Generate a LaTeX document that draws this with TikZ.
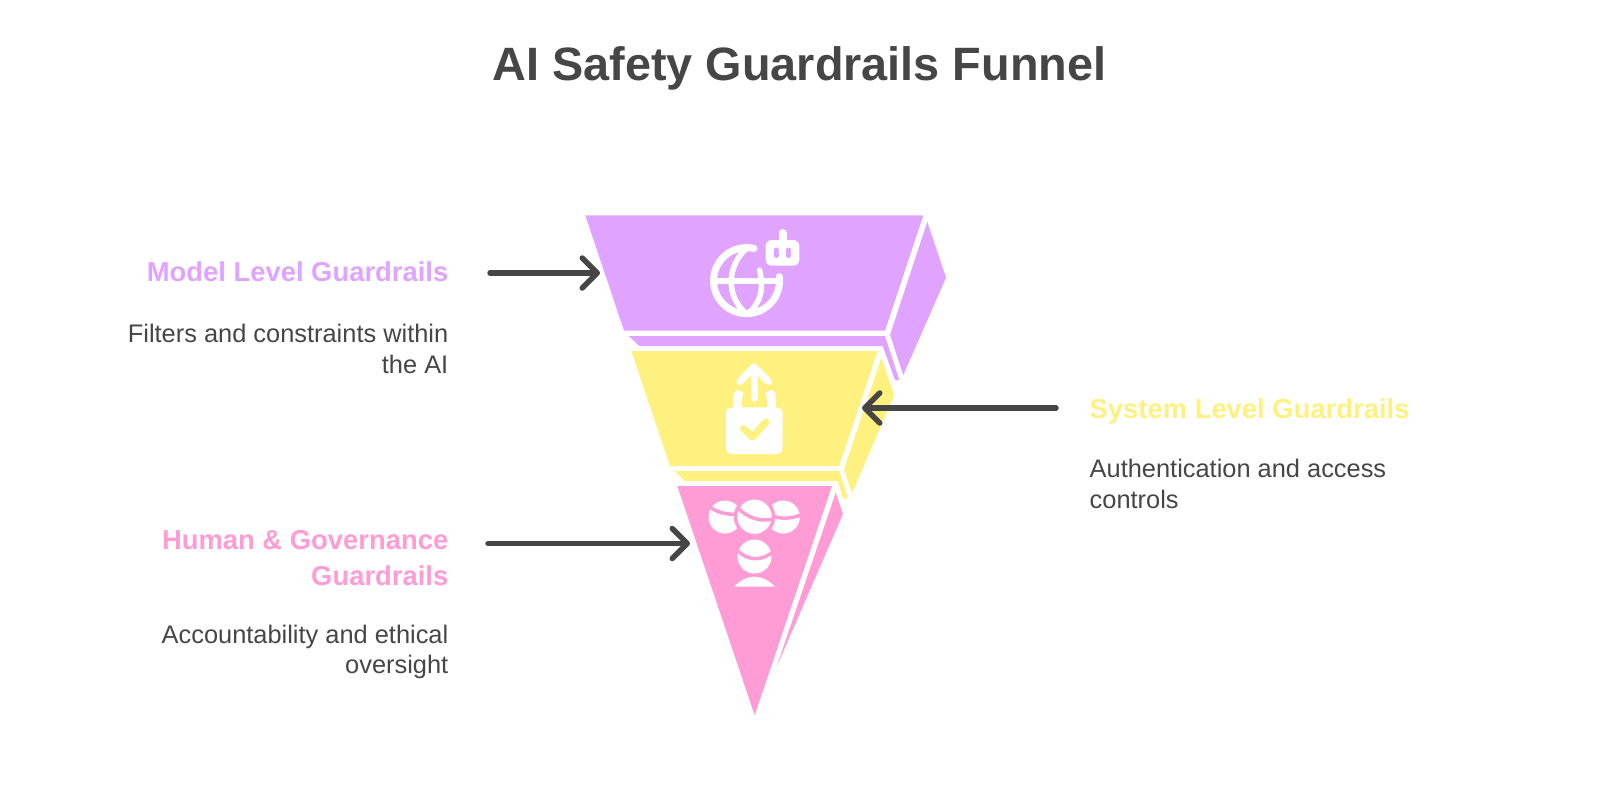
\documentclass[tikz,border=0pt]{standalone}
\usepackage{fontspec}
\setmainfont{Liberation Sans}
\usepackage{xcolor}
\usetikzlibrary{arrows.meta,positioning}
\definecolor{inkgray}{HTML}{464646}
\definecolor{modelcol}{HTML}{E0A3FF}
\definecolor{systemcol}{HTML}{FFF17F}
\definecolor{humancol}{HTML}{FF9CD6}

\begin{document}
\begin{tikzpicture}[
    x=1pt, y=-1pt,
    title/.style={font=\fontsize{46.8}{56}\selectfont\bfseries, text=inkgray, inner sep=0pt},
    head/.style={font=\fontsize{27.4}{36}\selectfont\bfseries, inner sep=0pt, align=right},
    body/.style={font=\fontsize{25.4}{30.6}\selectfont, text=inkgray, inner sep=0pt, align=right},
    pointer/.style={-{Straight Barb[length=15pt,width=30pt,round]}, line width=5.5pt, line cap=round, inkgray},
    iconline/.style={draw=white, line width=7pt, line cap=round, line join=round},
    stripe/.style={draw=humancol, line width=3.5pt}
  ]
  \useasboundingbox (0,0) rectangle (1600,787);

  \node[title] (heading) at (799.5,68) {AI Safety Guardrails Funnel};

  \fill[modelcol] (885,336) -- (628.7,336) -- (639.3,346) -- (882.7,346) -- (895,380) -- (899.3,380) -- cycle;
  \fill[modelcol] (927.3,221.7) -- (946,277.7) -- (903.3,375) -- (890,335) -- cycle;
  \fill[modelcol] (585.3,215.3) -- (923.3,215.3) -- (885,330.7) -- (624,330.7) -- cycle;

  \fill[systemcol] (839.3,471) -- (674.7,471) -- (684.7,481) -- (837.7,481) -- (843.3,498.3) -- (848,498.3) -- cycle;
  \fill[systemcol] (881.3,357.7) -- (894.3,395) -- (852,493.3) -- (844,469.3) -- cycle;
  \fill[systemcol] (631.3,351) -- (877.7,351) -- (839.3,466) -- (670,466) -- cycle;

  \fill[humancol] (835.7,492.7) -- (843,514) -- (776.7,666.7) -- cycle;
  \fill[humancol] (677.3,486) -- (832,486) -- (754.7,715.3) -- cycle;

  % globe and robot
  \draw[iconline] (754,248.5) arc[start angle=283, end angle=-7, radius=33];
  \draw[iconline, line width=5.5pt] (716,281) -- (777,281);
  \draw[iconline, line width=5.5pt] (747,248) .. controls (726,266) and (726,298) .. (747,314)
                            .. controls (761,304) and (764,288) .. (759.5,270);
  \fill[white, rounded corners=6pt] (765.7,240) rectangle (799.3,265.7);
  \draw[white, line width=8pt, line cap=round] (782.5,233) -- (782.5,242);
  \draw[modelcol, line width=5pt, line cap=round] (776,250) -- (776,255.5) (788.5,250) -- (788.5,255.5);

  % lock and arrow
  \fill[white, rounded corners=6pt] (726,407.3) rectangle (782.7,454);
  \fill[white] (733.3,410) -- (733.3,398) .. controls (733.3,394) and (734,391) .. (736,390) -- (743.3,392)
    .. controls (742,396) and (741.7,402) .. (742,410) -- cycle;
  \fill[white] (775.7,410) -- (775.7,398) .. controls (775.7,394) and (775,391) .. (773,390) -- (765.7,392)
    .. controls (767,396) and (767.3,402) .. (767,410) -- cycle;
  \draw[iconline] (754,398) -- (754,368);
  \draw[iconline] (740,381.5) -- (754,367) -- (768.5,381.5);
  \draw[systemcol, line width=7pt, line cap=round, line join=round] (743.5,428.5) -- (752.5,437) -- (766,422);

  % people
  \fill[white] (725,517) circle[radius=16.5];
  \fill[white] (783.3,517) circle[radius=16.5];
  \fill[white, draw=humancol, line width=3.5pt] (754.5,516.7) circle[radius=19];
  \draw[stripe] (710,507) .. controls (717,512) and (726,515) .. (736,514);
  \draw[stripe] (737,507) .. controls (747,518) and (760,522) .. (773,519);
  \draw[stripe] (773,516) .. controls (781,519) and (790,519) .. (801,515);
  \fill[white] (754.5,556.5) circle[radius=17];
  \draw[stripe] (737,550) .. controls (747,561) and (762,561) .. (772,552.5);
  \fill[white] (734,586.7) .. controls (741,580) and (747,576.7) .. (754.5,576.7)
    .. controls (762,576.7) and (768,580) .. (775,586.7) -- cycle;

  \node[head, text=modelcol, anchor=east] (modelhead) at (448.5,272) {Model Level Guardrails};
  \node[body, below=42pt of modelhead.south east, anchor=north east] (modelbody) {Filters and constraints within\\the AI};

  \node[head, text=systemcol, anchor=west] (systemhead) at (1089.5,411) {System Level Guardrails};
  \node[body, below=35pt of systemhead.south west, anchor=north west, align=left] (systembody) {Authentication and access\\controls};

  \node[head, text=humancol, anchor=east] (humanhead) at (448.5,558.5) {Human \& Governance\\Guardrails};
  \node[body, below=38pt of humanhead.south east, anchor=north east] (humanbody) {Accountability and ethical\\oversight};

  \coordinate (modelfrom) at (490,273);
  \coordinate (modelto) at (600,273);
  \coordinate (systemfrom) at (1056,408);
  \coordinate (systemto) at (862,408);
  \coordinate (humanfrom) at (488,543.5);
  \coordinate (humanto) at (690,543.5);

  \draw[pointer] (modelfrom) -- (modelto);
  \draw[pointer] (systemfrom) -- (systemto);
  \draw[pointer] (humanfrom) -- (humanto);
\end{tikzpicture}
\end{document}
